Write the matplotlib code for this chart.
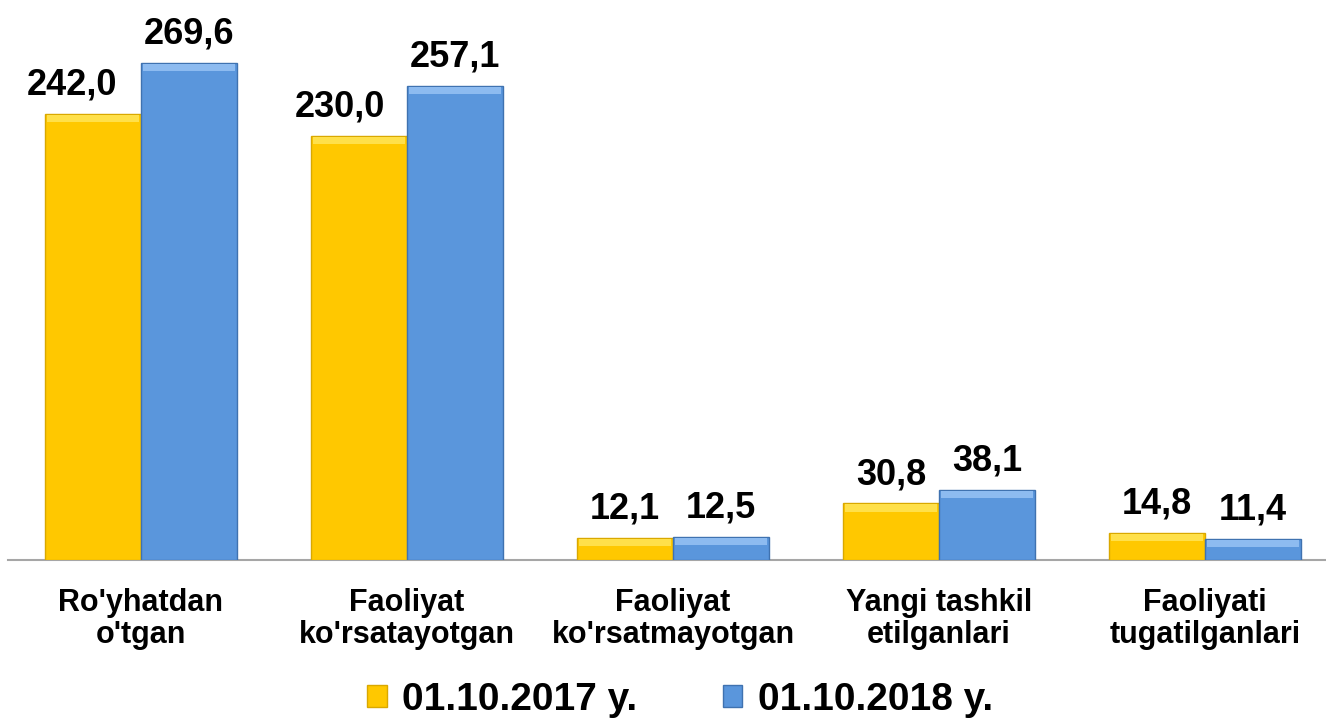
import numpy as np
import matplotlib.pyplot as plt
from matplotlib.patches import Patch

# Données (milliers)
categories = ["Ro'yhatdan\no'tgan", "Faoliyat\nko'rsatayotgan", "Faoliyat\nko'rsatmayotgan",
              "Yangi tashkil\netilganlari", "Faoliyati\ntugatilganlari"]
vals_2017 = [242.0, 230.0, 12.1, 30.8, 14.8]
vals_2018 = [269.6, 257.1, 12.5, 38.1, 11.4]
series_names = ["01.10.2017 y.", "01.10.2018 y."]

yellow = '#FFC800'
blue = '#5A96DC'

plt.rcParams['font.family'] = ['Liberation Sans', 'DejaVu Sans']
plt.rcParams['font.weight'] = 'bold'

W, H = 1326, 719
fig = plt.figure(figsize=(W / 100, H / 100), dpi=100)
ax = fig.add_axes([8 / W, 159 / H, 1318 / W, 560 / H])

x = np.arange(len(categories))
bw = 0.36
b1 = ax.bar(x - bw / 2, vals_2017, bw, color=yellow, edgecolor='#D9A800', linewidth=1, zorder=3)
b2 = ax.bar(x + bw / 2, vals_2018, bw, color=blue, edgecolor='#3F72B0', linewidth=1, zorder=3)

# petit reflet en haut des barres (effet biseau)
strip = 4.0
ax.bar(x - bw / 2, strip, bw * 0.96, bottom=np.array(vals_2017) - strip - 0.6,
       color='#FFE04A', linewidth=0, zorder=4)
ax.bar(x + bw / 2, strip, bw * 0.96, bottom=np.array(vals_2018) - strip - 0.6,
       color='#8DBBF0', linewidth=0, zorder=4)

def fmt(v):
    return f"{v:.1f}".replace('.', ',')

# les deux grandes étiquettes jaunes sont décalées vers la gauche
shift_2017 = [-15, -14, 0, 0, 0]

for bars, vals, shifts in ((b1, vals_2017, shift_2017), (b2, vals_2018, [0] * 5)):
    for r, v, dx in zip(bars, vals, shifts):
        ax.annotate(fmt(v), (r.get_x() + r.get_width() / 2, v), xytext=(dx, 8),
                    textcoords='offset points', ha='center', va='bottom',
                    fontsize=26, fontweight='bold', color='black')

ax.set_xlim(-0.5, -0.5 + 1318 / 266)
ax.set_ylim(0, 560 / 1.844)
ax.set_xticks(x)
ax.set_xticklabels(categories, fontsize=22, fontweight='bold', linespacing=1.1)
ax.tick_params(axis='x', length=0, pad=20)
ax.set_yticks([])
for s in ['top', 'right', 'left']:
    ax.spines[s].set_visible(False)
ax.spines['bottom'].set_color('#A6A6A6')
ax.spines['bottom'].set_linewidth(1.5)

handles = [Patch(facecolor=yellow, edgecolor='#D9A800'), Patch(facecolor=blue, edgecolor='#3F72B0')]
fig.legend(handles, series_names, loc='center', bbox_to_anchor=(680 / W, 19 / H), ncol=2,
           frameon=False, prop={'size': 28, 'weight': 'bold'}, handlelength=0.5, handleheight=0.5,
           handletextpad=0.4, columnspacing=2.2, borderpad=0.1)

fig.savefig('out.png', dpi=100)
